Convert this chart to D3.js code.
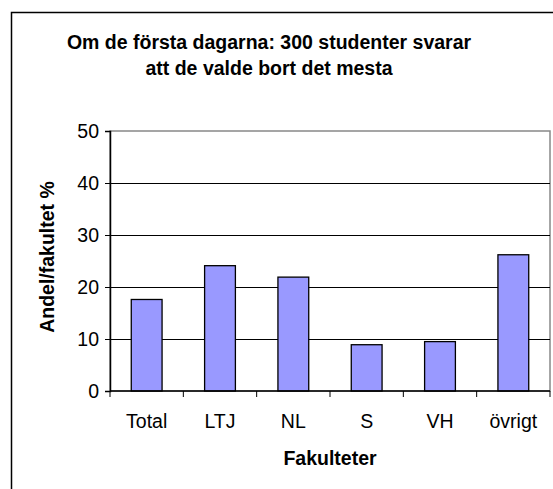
<!DOCTYPE html>
<html>
<head>
<meta charset="utf-8">
<script src="https://cdn.jsdelivr.net/npm/d3@7"></script>
<style>
  html, body { margin: 0; padding: 0; background: #fff; }
  svg { display: block; font-family: Arial, "Liberation Sans", sans-serif; }
</style>
</head>
<body>
<div id="chart"></div>
<script>
// Andel per fakultet (%)
const categories = ['Total', 'LTJ', 'NL', 'S', 'VH', 'övrigt'];
const values     = [17.6, 24.1, 21.9, 8.9, 9.5, 26.2];
const yTicks     = [0, 10, 20, 30, 40, 50];
const titleLines = ['Om de första dagarna: 300 studenter svarar', 'att de valde bort det mesta'];

const W = 553, H = 489;
const plot = { left: 110, right: 550, top: 131, bottom: 391 };
const FS = 19.5;

const svg = d3.select('#chart').append('svg')
  .attr('width', W).attr('height', H);

// outer chart frame (runs off the right and bottom edges)
svg.append('rect')
  .attr('x', 11.5).attr('y', 12.5)
  .attr('width', 600).attr('height', 600)
  .attr('fill', '#fff').attr('stroke', '#000').attr('stroke-width', 1.5);

const y = d3.scaleLinear().domain([0, 50]).range([plot.bottom, plot.top]);
const xBand = d3.scaleBand().domain(categories).range([plot.left, plot.right]);
const xBar  = d3.scaleBand().domain(categories).range([plot.left, plot.right])
  .paddingInner(0.58).paddingOuter(0.29);

// plot area border (grey top/right)
svg.append('rect')
  .attr('x', plot.left).attr('y', plot.top)
  .attr('width', plot.right - plot.left).attr('height', plot.bottom - plot.top)
  .attr('fill', 'none').attr('stroke', '#888').attr('stroke-width', 1.5);

// gridlines
svg.append('g').selectAll('line')
  .data(yTicks.filter(t => t > 0 && t < 50))
  .join('line')
  .attr('x1', plot.left).attr('x2', plot.right)
  .attr('y1', d => Math.round(y(d)) + 0.5).attr('y2', d => Math.round(y(d)) + 0.5)
  .attr('stroke', '#000').attr('stroke-width', 1);

// bars
svg.append('g').selectAll('rect')
  .data(values)
  .join('rect')
  .attr('x', (d, i) => xBar(categories[i]))
  .attr('y', d => y(d))
  .attr('width', xBar.bandwidth())
  .attr('height', d => y(0) - y(d))
  .attr('fill', '#9999ff')
  .attr('stroke', '#000').attr('stroke-width', 1.3);

// y axis
const yAxis = d3.axisLeft(y).tickValues(yTicks).tickSize(5).tickPadding(6);
const gy = svg.append('g').attr('transform', `translate(${plot.left},0)`).call(yAxis);
gy.select('.domain').attr('stroke', '#000').attr('stroke-width', 1.5);
gy.selectAll('.tick line').attr('stroke', '#000');
gy.selectAll('.tick text').attr('font-size', FS).attr('fill', '#000').attr('font-family', null);

// x axis: ticks on category boundaries
const gx = svg.append('g').attr('transform', `translate(0,${plot.bottom})`);
gx.append('line')
  .attr('x1', plot.left).attr('x2', plot.right)
  .attr('stroke', '#000').attr('stroke-width', 1.5);
gx.selectAll('line.tick')
  .data([...categories.map(c => xBand(c)), plot.right])
  .join('line').attr('class', 'tick')
  .attr('x1', d => d).attr('x2', d => d)
  .attr('y1', 0).attr('y2', 6)
  .attr('stroke', '#000');
gx.selectAll('text')
  .data(categories)
  .join('text')
  .attr('x', d => xBand(d) + xBand.bandwidth() / 2)
  .attr('y', 37)
  .attr('text-anchor', 'middle')
  .attr('font-size', FS)
  .text(d => d);

// title
svg.append('text')
  .attr('text-anchor', 'middle')
  .attr('font-size', FS).attr('font-weight', 'bold')
  .selectAll('tspan')
  .data(titleLines)
  .join('tspan')
  .attr('x', 269)
  .attr('y', (d, i) => 49 + i * 26)
  .text(d => d);

// axis titles
svg.append('text')
  .attr('x', 330).attr('y', 465)
  .attr('text-anchor', 'middle')
  .attr('font-size', FS).attr('font-weight', 'bold')
  .text('Fakulteter');

svg.append('text')
  .attr('transform', 'translate(54,257) rotate(-90)')
  .attr('text-anchor', 'middle')
  .attr('font-size', FS).attr('font-weight', 'bold')
  .text('Andel/fakultet %');
</script>
</body>
</html>
